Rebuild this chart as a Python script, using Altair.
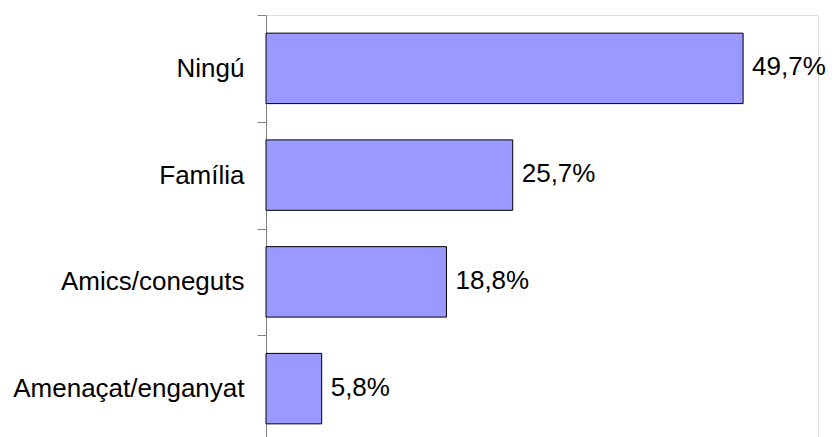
import altair as alt
import pandas as pd

categories = ["Ningú", "Família", "Amics/coneguts", "Amenaçat/enganyat"]
values = [49.7, 25.7, 18.8, 5.8]
labels = ["49,7%", "25,7%", "18,8%", "5,8%"]

df = pd.DataFrame({"cat": categories, "val": values, "lab": labels})

font = "Liberation Sans"

y_enc = alt.Y(
    "cat:N",
    sort=categories,
    title=None,
    scale=alt.Scale(paddingInner=0, paddingOuter=0),
    axis=alt.Axis(
        tickBand="extent",
        domainColor="#808080",
        tickColor="#808080",
        tickSize=9,
        labelPadding=13,
        labelFontSize=26,
        labelFont=font,
        labelColor="black",
        grid=False,
        labelLimit=400,
    ),
)

x_enc = alt.X("val:Q", scale=alt.Scale(domain=[0, 57.5]), axis=None)

bars = alt.Chart(df).mark_bar(
    color="#9999FF", stroke="black", strokeWidth=1,
    height=alt.RelativeBandSize(band=0.66),
).encode(x=x_enc, y=y_enc)

text = alt.Chart(df).mark_text(
    align="left", baseline="middle", dx=9, dy=-1, fontSize=26, font=font, color="black"
).encode(x=x_enc, y=alt.Y("cat:N", sort=categories), text="lab:N")

chart = (
    alt.layer(bars, text)
    .properties(
        width=552,
        height=427,
        autosize=alt.AutoSizeParams(type="none"),
        padding={"left": 258, "top": 7, "right": 8, "bottom": 0},
    )
    .configure_view(stroke=None)
    .configure(background="white")
)

chart.save("out.html", embed_options={"renderer": "svg", "actions": False})
